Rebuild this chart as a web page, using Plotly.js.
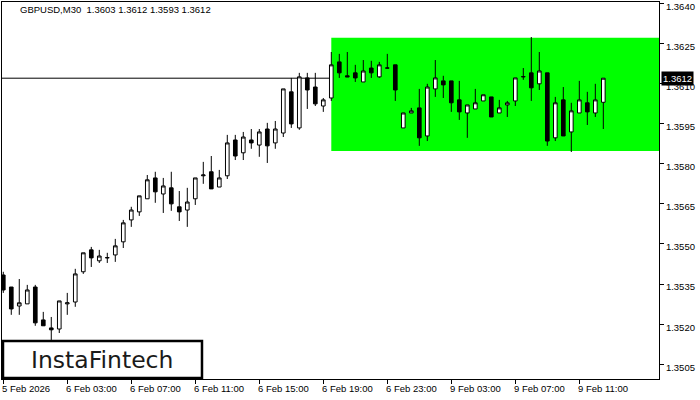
<!DOCTYPE html>
<html><head><meta charset="utf-8">
<script src="https://cdn.plot.ly/plotly-3.0.1.min.js"></script>
<style>html,body{margin:0;padding:0;background:#fff;}#chart{width:700px;height:400px;}</style>
</head><body><div id="chart"></div>
<script>
const symbol = "GBPUSD,M30";
const openP = [1.35384,1.35339,1.35268,1.35276,1.35339,1.35216,1.35186,1.35182,1.35276,1.35283,
1.35396,1.35478,1.35437,1.35448,1.35459,1.35508,1.35590,1.35620,1.35669,1.35747,
1.35687,1.35710,1.35639,1.35627,1.35669,1.35755,1.35770,1.35713,1.35755,1.35889,
1.35841,1.35889,1.35870,1.35930,1.35878,1.35915,1.36069,1.35934,1.36121,1.36087,
1.36016,1.36046,1.36181,1.36129,1.36140,1.36106,1.36158,1.36125,1.36158,1.36170,
1.35934,1.35990,1.36009,1.35904,1.36080,1.36110,1.36110,1.36039,1.35990,1.36005,
1.36035,1.36050,1.35990,1.36020,1.36035,1.36125,1.36140,1.36099,1.36140,1.35897,
1.36039,1.35919,1.35990,1.36028,1.35990,1.36030];
const highP = [1.35396,1.35339,1.35369,1.35347,1.35347,1.35246,1.35227,1.35287,1.35317,1.35407,
1.35467,1.35489,1.35478,1.35467,1.35519,1.35590,1.35639,1.35680,1.35758,1.35770,
1.35747,1.35770,1.35698,1.35710,1.35747,1.35807,1.35829,1.35777,1.35908,1.35908,
1.35919,1.35930,1.35930,1.35953,1.35960,1.36080,1.36121,1.36140,1.36140,1.36140,
1.36046,1.36218,1.36211,1.36218,1.36170,1.36188,1.36185,1.36181,1.36211,1.36170,
1.35990,1.36009,1.36080,1.36099,1.36188,1.36129,1.36110,1.36110,1.36020,1.36080,
1.36058,1.36050,1.36039,1.36035,1.36121,1.36158,1.36274,1.36218,1.36140,1.36050,
1.36087,1.36028,1.36110,1.36069,1.36099,1.36120];
const lowP = [1.35317,1.35235,1.35235,1.35276,1.35194,1.35194,1.35141,1.35167,1.35235,1.35265,
1.35388,1.35414,1.35429,1.35429,1.35433,1.35485,1.35564,1.35605,1.35669,1.35654,
1.35616,1.35624,1.35586,1.35564,1.35646,1.35725,1.35706,1.35713,1.35743,1.35814,
1.35814,1.35856,1.35826,1.35803,1.35856,1.35900,1.35934,1.35927,1.36005,1.36016,
1.35994,1.36035,1.36121,1.36125,1.36106,1.36106,1.36121,1.36121,1.36158,1.36035,
1.35934,1.35990,1.35867,1.35885,1.36050,1.36046,1.35994,1.35964,1.35897,1.36005,
1.36035,1.35975,1.35990,1.35975,1.36016,1.36114,1.36035,1.36076,1.35867,1.35885,
1.35904,1.35844,1.35990,1.35945,1.35975,1.35930];
const closeP = [1.35328,1.35257,1.35280,1.35328,1.35205,1.35194,1.35179,1.35287,1.35280,1.35388,
1.35467,1.35448,1.35455,1.35449,1.35493,1.35579,1.35627,1.35680,1.35740,1.35695,
1.35717,1.35650,1.35620,1.35657,1.35747,1.35758,1.35706,1.35747,1.35878,1.35829,
1.35900,1.35878,1.35919,1.35867,1.35930,1.36080,1.35949,1.36125,1.36076,1.36024,
1.36039,1.36170,1.36140,1.36125,1.36121,1.36147,1.36140,1.36170,1.36158,1.36076,
1.35990,1.35998,1.35897,1.36087,1.36121,1.36095,1.36028,1.35994,1.36020,1.36028,
1.36058,1.35975,1.36009,1.36028,1.36121,1.36126,1.36084,1.36147,1.35885,1.36028,
1.35904,1.35998,1.36039,1.35994,1.36039,1.36120];
const tickIdx = [0,8,16,24,32,40,48,56,64,72];
const tickLabels = ["5 Feb 2026","6 Feb 03:00","6 Feb 07:00","6 Feb 11:00","6 Feb 15:00","6 Feb 19:00","6 Feb 23:00","9 Feb 03:00","9 Feb 07:00","9 Feb 11:00"];
const yTicks = [1.3505,1.3520,1.3535,1.3550,1.3565,1.3580,1.3595,1.3610,1.3625,1.3640];
const patternStart = 41;
const patternTop = 1.36271;
const patternBottom = 1.35848;
const lastPrice = 1.3612;
const brand = "InstaFintech";

const n = openP.length;
const xIdx = openP.map((_, i) => i);
const font = "Liberation Sans, Arial, sans-serif";

const trace = {
  type: "candlestick",
  x: xIdx, open: openP, high: highP, low: lowP, close: closeP,
  increasing: {line: {color: "#000", width: 1}, fillcolor: "#fff"},
  decreasing: {line: {color: "#000", width: 1}, fillcolor: "#000"},
  whiskerwidth: 0,
  hoverinfo: "none",
  showlegend: false
};

const annotations = tickIdx.map((v, i) => ({
  x: v, xref: "x", y: 0, yref: "paper", yanchor: "top", xanchor: "left",
  yshift: -2, xshift: -3, showarrow: false, text: tickLabels[i],
  font: {family: font, size: 9.5, color: "#000"}
}));
const last = n - 1;
annotations.push({
  x: 0.0244, xref: "paper", y: 0.979, yref: "paper", xanchor: "left", yanchor: "middle",
  showarrow: false,
  text: symbol + "  " + [openP[last], highP[last], lowP[last], closeP[last]].map(v => v.toFixed(4)).join(" "),
  font: {family: font, size: 9.5, color: "#000"}
});
annotations.push({
  x: 1, xref: "paper", y: lastPrice, yref: "y", xanchor: "left", yanchor: "middle",
  xshift: 2, showarrow: false, text: lastPrice.toFixed(4), bgcolor: "#000", borderpad: 1,
  font: {family: font, size: 9.5, color: "#fff"}
});
annotations.push({
  x: 0.152, xref: "paper", y: 0.0517, yref: "paper", xanchor: "center", yanchor: "middle",
  showarrow: false, text: brand,
  font: {family: "DejaVu Sans, sans-serif", size: 23.5, color: "#1a1a1a"}
});

const layout = {
  width: 700, height: 400,
  margin: {l: 2, r: 41, t: 2, b: 21, pad: 0},
  paper_bgcolor: "#fff", plot_bgcolor: "#fff",
  boxgap: 0.35,
  xaxis: {
    range: [-0.16, 81.96], rangeslider: {visible: false},
    tickmode: "array", tickvals: tickIdx, showticklabels: false,
    ticks: "outside", ticklen: 4, tickcolor: "#000",
    showgrid: false, zeroline: false, showline: true, linecolor: "#000", linewidth: 1, mirror: true,
    fixedrange: true
  },
  yaxis: {
    range: [1.34995, 1.36405], side: "right",
    tickmode: "array", tickvals: yTicks, ticktext: yTicks.map(v => v.toFixed(4)),
    ticks: "outside", ticklen: 4, tickcolor: "#000", ticklabeloverflow: "allow",
    ticklabelshift: 3,
    tickfont: {family: font, size: 9.5, color: "#000"},
    showgrid: false, zeroline: false, showline: true, linecolor: "#000", linewidth: 1, mirror: true,
    fixedrange: true
  },
  shapes: [
    {type: "rect", xref: "x", yref: "y", x0: patternStart, x1: 90, y0: patternBottom, y1: patternTop,
     fillcolor: "#00ff00", line: {width: 0}, layer: "below"},
    {type: "line", xref: "paper", yref: "y", x0: 0, x1: 1, y0: lastPrice, y1: lastPrice,
     line: {color: "#000", width: 1}, layer: "below"},
    {type: "rect", xref: "paper", yref: "paper", x0: 0.0015, x1: 0.3044, y0: 0.00265, y1: 0.1008,
     fillcolor: "#fff", line: {color: "#000", width: 2.5}, layer: "above"}
  ],
  annotations: annotations
};

Plotly.newPlot("chart", [trace], layout, {staticPlot: true, displayModeBar: false});
</script></body></html>
